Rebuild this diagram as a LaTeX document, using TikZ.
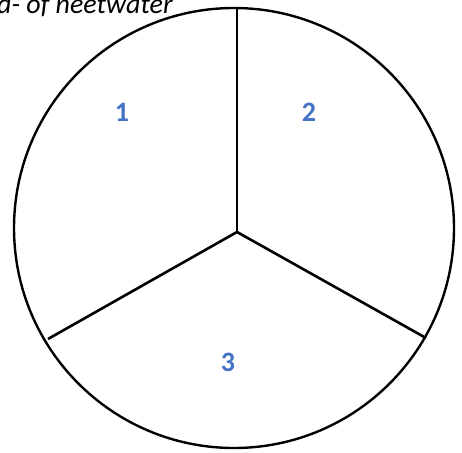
\documentclass[tikz,border=0pt]{standalone}
\usepackage{fontspec}
\setmainfont{Carlito}
\definecolor{lblblue}{HTML}{4472C4}

\begin{document}
\begin{tikzpicture}[x=1pt, y=-1pt,
  sector/.style={line width=2.6pt},
  seclabel/.style={lblblue, font=\fontsize{28}{30}\selectfont\bfseries, inner sep=0pt}]

% ============================================================ the page
\useasboundingbox (0,0) rectangle (462,452);

% ====================================================== the circle
\coordinate (centre) at (234,228);
\draw[line width=2.4pt] (centre) circle (220);

% ============================================= the three sectors
\coordinate (hub)    at (237,232);
\coordinate (top)    at (237,7);
\coordinate (right)  at (426,338);
\coordinate (left)   at (48,339);
\draw[sector] (hub) -- (top);
\draw[sector] (hub) -- (right);
\draw[sector] (hub) -- (left);

\node[seclabel] (one)   at (122,112) {1};
\node[seclabel] (two)   at (309,112) {2};
\node[seclabel] (three) at (228,362) {3};

% ===================== caption, cut off at the top edge of the page
\node[anchor=base west, inner sep=0pt, font=\fontsize{28}{30}\selectfont\itshape]
  (caption) at (-3,14) {d- of neetwater};

\end{tikzpicture}
\end{document}
